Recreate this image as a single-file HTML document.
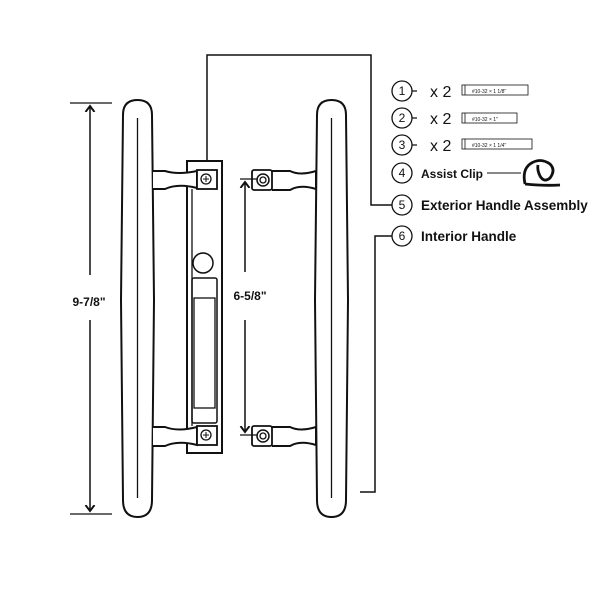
<!DOCTYPE html>
<html><head><meta charset="utf-8"><style>
html,body{margin:0;padding:0;background:#fff}
svg{display:block}
text{font-family:"Liberation Sans",sans-serif;fill:#111}
</style></head><body>
<svg width="600" height="600" viewBox="0 0 600 600" xmlns="http://www.w3.org/2000/svg">
<defs>
<marker id="ah" markerWidth="8" markerHeight="8" refX="4" refY="4" orient="auto"><path d="M0,1 L4,4 L0,7" fill="none" stroke="#111" stroke-width="1.3"/></marker>
</defs>
<g fill="none" stroke="#111" stroke-width="2">
<path d="M123,115 Q123,100 137.5,100 Q152,100 152,115 L154,300 L152,500 Q152,517 137.5,517 Q123,517 123,500 L121,300 Z" fill="#fff"/>
<line x1="137.5" y1="118" x2="137.5" y2="498" stroke-width="1.3"/>
<path d="M317,115 Q317,100 331.5,100 Q346,100 346,115 L348,300 L346,500 Q346,517 331.5,517 Q317,517 317,500 L315,300 Z" fill="#fff"/>
<line x1="331.5" y1="118" x2="331.5" y2="498" stroke-width="1.3"/>
<rect x="187" y="161" width="35" height="292" fill="#fff"/>
<path d="M153,171 L165,171 Q178,175 197,171 L197,188 Q178,183 165,189 L153,189" fill="#fff"/>
<path d="M153,427 L165,427 Q178,432 197,427 L197,445 Q178,440 165,446 L153,446" fill="#fff"/>
<rect x="197" y="170" width="20" height="19" fill="#fff" stroke-width="1.8"/>
<rect x="197" y="426" width="20" height="19" fill="#fff" stroke-width="1.8"/>
<line x1="192" y1="189" x2="192" y2="426" stroke-width="1.3"/>
<circle cx="203" cy="263" r="10" stroke-width="1.5"/>
<rect x="192" y="278" width="25" height="145" rx="2" stroke-width="1.5"/>
<rect x="194" y="298" width="21" height="110" stroke-width="1.3"/>
<circle cx="206" cy="179" r="5" stroke-width="1.3"/>
<circle cx="206" cy="435" r="5" stroke-width="1.3"/>
<path d="M203,179 h6 M206,176 v6 M203,435 h6 M206,432 v6" stroke-width="1"/>
<path d="M272,171 L290,171 Q300,176 316,171 L316,189 Q300,184 290,190 L272,190" fill="#fff"/>
<path d="M272,427 L290,427 Q300,432 316,427 L316,445 Q300,440 290,446 L272,446" fill="#fff"/>
<rect x="252" y="170" width="20" height="20" rx="2" fill="#fff" stroke-width="1.8"/>
<rect x="252" y="426" width="20" height="20" rx="2" fill="#fff" stroke-width="1.8"/>
<circle cx="263" cy="180" r="6" stroke-width="1.5"/><circle cx="263" cy="180" r="3" stroke-width="1.3"/>
<circle cx="263" cy="436" r="6" stroke-width="1.5"/><circle cx="263" cy="436" r="3" stroke-width="1.3"/>
<line x1="240" y1="179" x2="257" y2="179" stroke-width="1.3"/>
<line x1="240" y1="435" x2="257" y2="435" stroke-width="1.3"/>
<line x1="245" y1="272" x2="245" y2="182" stroke-width="1.5" marker-end="url(#ah)"/>
<line x1="245" y1="320" x2="245" y2="432" stroke-width="1.5" marker-end="url(#ah)"/>
<line x1="70" y1="103" x2="112" y2="103" stroke-width="1.2"/>
<line x1="70" y1="514" x2="112" y2="514" stroke-width="1.2"/>
<line x1="90" y1="275" x2="90" y2="106" stroke-width="1.5" marker-end="url(#ah)"/>
<line x1="90" y1="320" x2="90" y2="511" stroke-width="1.5" marker-end="url(#ah)"/>
<polyline points="207,160 207,55 371,55 371,205 392,205" stroke-width="1.5"/>
<polyline points="360,492 375,492 375,236 392,236" stroke-width="1.5"/>
<g stroke-width="1.3">
<circle cx="402" cy="91" r="10"/><circle cx="402" cy="118" r="10"/><circle cx="402" cy="145" r="10"/>
<circle cx="402" cy="173" r="10"/><circle cx="402" cy="205" r="10"/><circle cx="402" cy="236" r="10"/>
<path d="M412,91 h5 M412,118 h5 M412,145 h5"/>
<line x1="487" y1="173" x2="521" y2="173" stroke-width="1"/>
</g>
<g stroke-width="0.8">
<rect x="462" y="85" width="66" height="10"/><line x1="465" y1="85" x2="465" y2="95"/>
<rect x="462" y="113" width="55" height="10"/><line x1="465" y1="113" x2="465" y2="123"/>
<rect x="462" y="139" width="70" height="10"/><line x1="465" y1="139" x2="465" y2="149"/>
</g>
<path d="M525,184 Q522,170 530,164 Q540,157 550,164 Q556,170 550,178 Q544,183 540,176 Q537,170 538,165 M525,184 Q545,186 560,185" stroke-width="2.8"/>
</g>
<text x="402" y="95" text-anchor="middle" font-size="12">1</text>
<text x="402" y="122" text-anchor="middle" font-size="12">2</text>
<text x="402" y="149" text-anchor="middle" font-size="12">3</text>
<text x="402" y="177" text-anchor="middle" font-size="12">4</text>
<text x="402" y="209" text-anchor="middle" font-size="12">5</text>
<text x="402" y="240" text-anchor="middle" font-size="12">6</text>
<text x="430" y="97" font-size="16">x 2</text>
<text x="430" y="124" font-size="16">x 2</text>
<text x="430" y="151" font-size="16">x 2</text>
<text x="472" y="93" font-size="5">#10-32 × 1 1/8''</text>
<text x="472" y="121" font-size="5">#10-32 × 1''</text>
<text x="472" y="147" font-size="5">#10-32 × 1 1/4''</text>
<text x="421" y="178" font-size="12" font-weight="bold">Assist Clip</text>
<text x="421" y="210" font-size="13.5" font-weight="bold">Exterior Handle Assembly</text>
<text x="421" y="241" font-size="13.5" font-weight="bold">Interior Handle</text>
<text x="89" y="306" font-size="12" font-weight="bold" text-anchor="middle">9-7/8"</text>
<text x="250" y="300" font-size="12" font-weight="bold" text-anchor="middle">6-5/8"</text>
</svg>
</body></html>
